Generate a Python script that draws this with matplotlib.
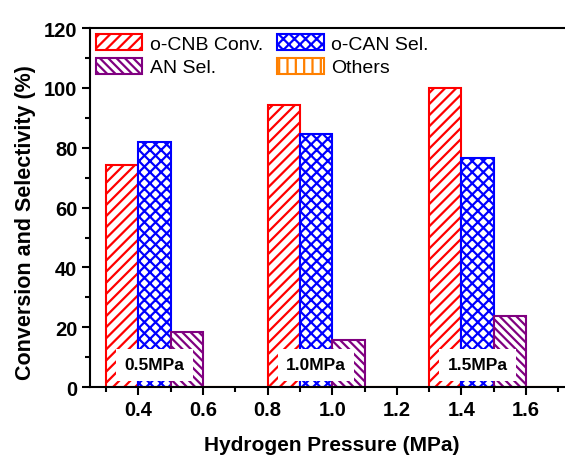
import matplotlib
matplotlib.use("Agg")
import matplotlib.pyplot as plt
from matplotlib.ticker import MultipleLocator

plt.rcParams['font.family'] = ['Liberation Sans', 'DejaVu Sans']
plt.rcParams['hatch.linewidth'] = 1.6

# Dados
pressoes = [0.5, 1.0, 1.5]
rotulos = ["0.5MPa", "1.0MPa", "1.5MPa"]
cnb_conv = [74.3, 94.3, 100.0]
can_sel = [81.8, 84.5, 76.7]
an_sel = [18.5, 15.8, 23.6]
outros = [0.0, 0.0, 0.0]

series = [
    ("o-CNB Conv.", cnb_conv, "#FF0000", "///"),
    ("o-CAN Sel.", can_sel, "#0000FF", "xxx"),
    ("AN Sel.", an_sel, "#800080", "\\\\\\\\"),
    ("Others", outros, "#FF8000", "||"),
]

largura = 0.1
fig = plt.figure(figsize=(5.65, 4.56), dpi=100)
ax = fig.add_axes([0.159, 0.149, 0.858, 0.787])

barras = []
for i, (nome, vals, cor, hatch) in enumerate(series):
    xs = [p - 0.15 + i * largura for p in pressoes]
    b = ax.bar(xs, vals, width=largura, facecolor="white", edgecolor=cor,
               hatch=hatch, linewidth=1.5, label=nome)
    barras.append(b)

for p, txt in zip(pressoes, rotulos):
    ax.text(p - 0.05, 7.4, txt, ha="center", va="center", fontsize=12.5,
            fontweight="bold", zorder=5,
            bbox=dict(facecolor="white", edgecolor="none", pad=6))

ax.set_xlim(0.25, 1.75)
ax.set_ylim(0, 120)
ax.xaxis.set_major_locator(MultipleLocator(0.2))
ax.xaxis.set_minor_locator(MultipleLocator(0.1))
ax.yaxis.set_major_locator(MultipleLocator(20))
ax.yaxis.set_minor_locator(MultipleLocator(10))
ax.tick_params(which="major", direction="out", length=6, width=1.5,
               labelsize=14.5, pad=3)
ax.tick_params(which="minor", direction="out", length=3.5, width=1.5)
for lab in ax.get_xticklabels() + ax.get_yticklabels():
    lab.set_fontweight("bold")
for s in ax.spines.values():
    s.set_linewidth(1.5)

ax.set_xlabel("Hydrogen Pressure (MPa)", fontsize=15, fontweight="bold",
              labelpad=12)
ax.set_ylabel("Conversion and Selectivity (%)", fontsize=15.5,
              fontweight="bold")
ax.yaxis.set_label_coords(-0.111, 0.462)

# ordem para preencher por linhas: (CNB, CAN) / (AN, Others)
ordem = [0, 2, 1, 3]
ax.legend([barras[i] for i in ordem], [series[i][0] for i in ordem],
          loc="upper left", ncol=2, frameon=False, fontsize=14,
          handlelength=2.4, handleheight=0.9, handletextpad=0.4,
          columnspacing=0.7, labelspacing=0.25, borderaxespad=0.1,
          borderpad=0.2)

fig.savefig("out.png", dpi=100)
